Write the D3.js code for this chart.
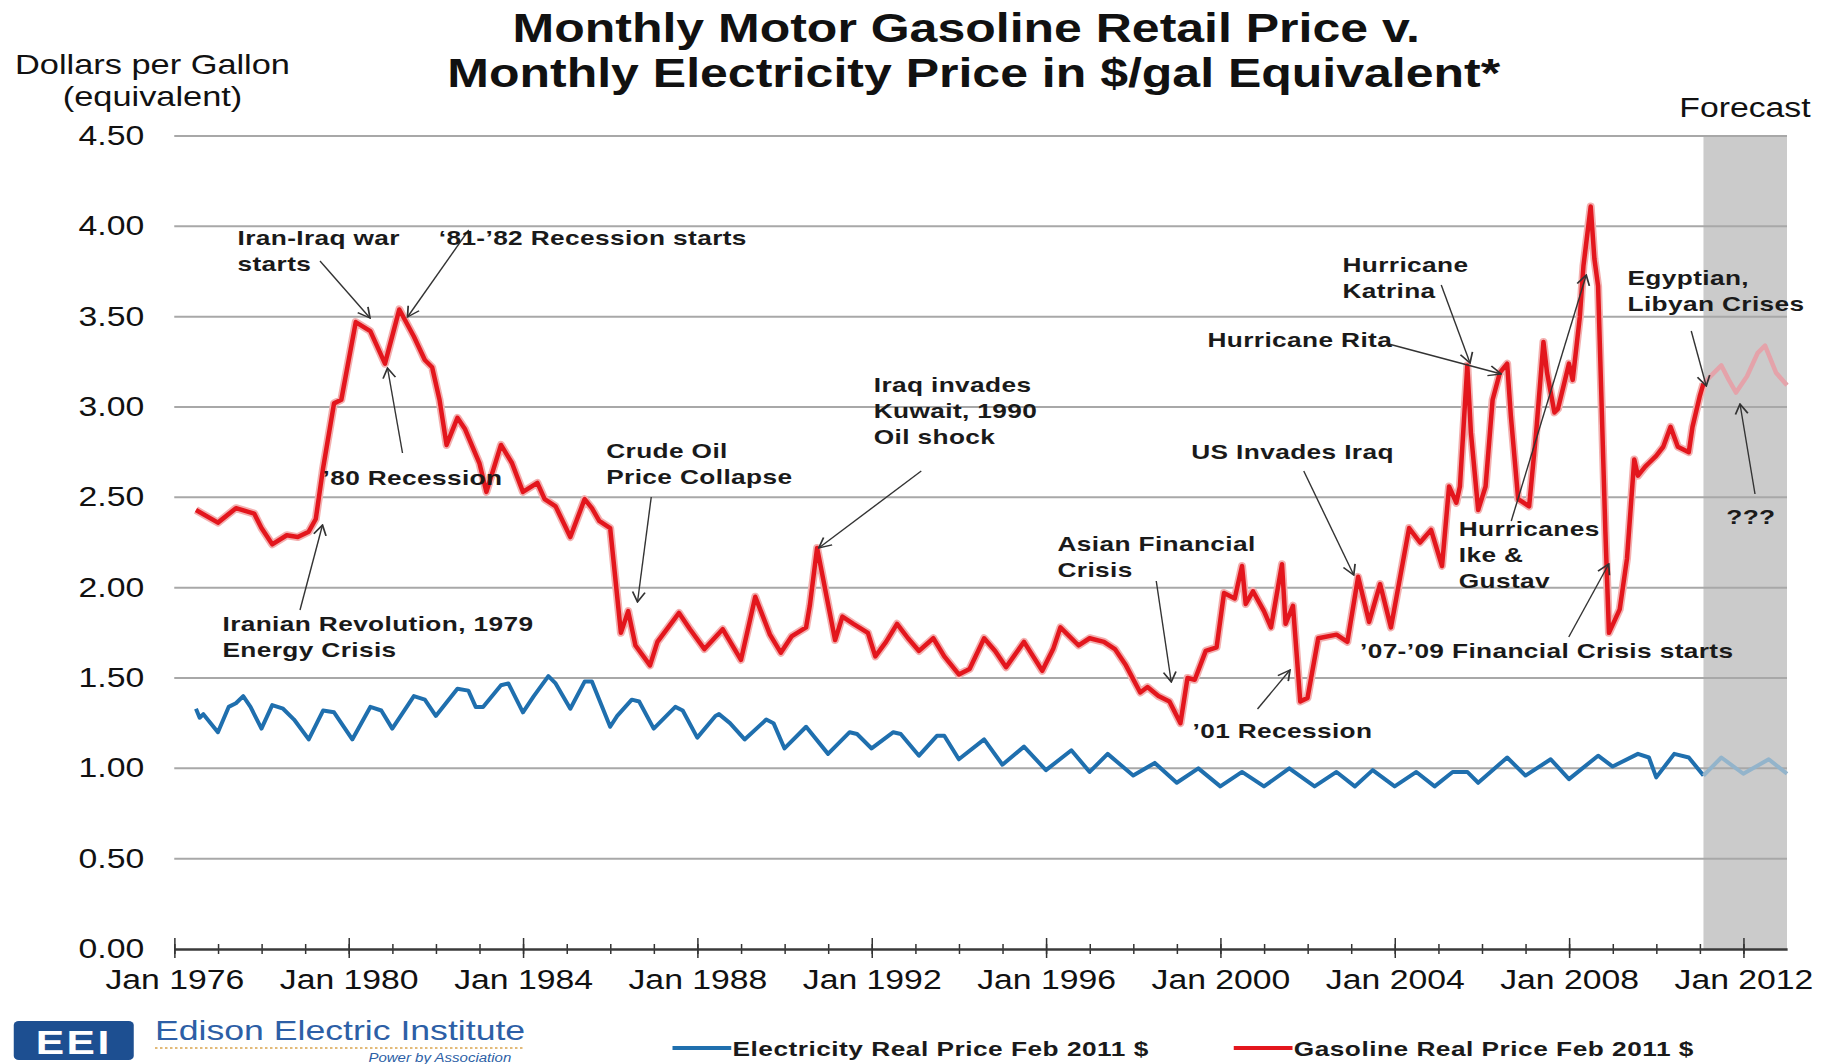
<!DOCTYPE html>
<html>
<head>
<meta charset="utf-8">
<script src="https://cdn.jsdelivr.net/npm/d3@7"></script>
<style>
  html, body { margin: 0; padding: 0; background: #fff; }
  svg { display: block; font-family: "Liberation Sans", Arial, sans-serif; }
  .annot { font-size: 21px; font-weight: bold; fill: #1a1a1a; letter-spacing: 0.3px; }
  .legend { font-size: 21px; font-weight: bold; fill: #1a1a1a; letter-spacing: 0.4px; }
</style>
</head>
<body>
<svg id="chart"></svg>
<script>
// gasoline, real $ per gallon (one row per year)
const gasMonths = [
  '1976-07',
  '1977-01', '1977-06', '1977-11',
  '1978-01', '1978-04', '1978-08', '1978-11',
  '1979-02', '1979-04', '1979-06', '1979-09', '1979-11',
  '1980-03', '1980-07', '1980-11',
  '1981-03', '1981-07', '1981-10', '1981-12',
  '1982-02', '1982-04', '1982-07', '1982-09',
  '1983-01', '1983-03', '1983-07', '1983-10',
  '1984-01', '1984-05', '1984-07', '1984-10',
  '1985-02', '1985-06', '1985-08', '1985-10',
  '1986-01', '1986-04', '1986-06', '1986-08', '1986-12',
  '1987-02', '1987-08', '1987-11',
  '1988-03', '1988-08',
  '1989-01', '1989-05', '1989-09', '1989-12',
  '1990-03', '1990-07', '1990-08', '1990-10',
  '1991-03', '1991-05', '1991-08', '1991-12',
  '1992-02', '1992-05', '1992-08', '1992-11',
  '1993-02', '1993-06', '1993-09',
  '1994-01', '1994-04', '1994-08', '1994-11',
  '1995-02', '1995-07', '1995-12',
  '1996-03', '1996-05', '1996-10',
  '1997-01', '1997-05', '1997-08', '1997-11',
  '1998-03', '1998-05', '1998-08', '1998-11',
  '1999-02', '1999-04', '1999-06', '1999-09', '1999-12',
  '2000-02', '2000-05', '2000-07', '2000-08', '2000-10',
  '2001-01', '2001-03', '2001-06', '2001-07', '2001-09', '2001-11',
  '2002-01', '2002-04', '2002-09', '2002-12',
  '2003-03', '2003-06', '2003-09', '2003-12',
  '2004-05', '2004-08', '2004-11',
  '2005-02', '2005-04', '2005-06', '2005-07', '2005-09', '2005-10', '2005-12',
  '2006-02', '2006-04', '2006-06', '2006-08', '2006-09', '2006-11',
  '2007-02', '2007-04', '2007-06', '2007-07', '2007-09', '2007-10',
  '2008-01', '2008-02', '2008-04', '2008-05', '2008-07', '2008-08', '2008-09', '2008-11', '2008-12',
  '2009-03', '2009-05', '2009-07', '2009-08', '2009-10', '2009-11',
  '2010-01', '2010-03', '2010-05', '2010-07', '2010-10', '2010-11',
  '2011-01', '2011-02'
];
const gasPrices = [
  2.43,
  2.36, 2.44, 2.41,
  2.33, 2.24, 2.29, 2.28,
  2.31, 2.38, 2.66, 3.02, 3.04,
  3.47, 3.42, 3.24,
  3.54, 3.39, 3.26, 3.22,
  3.04, 2.79, 2.94, 2.88,
  2.69, 2.53, 2.79, 2.69,
  2.53, 2.58, 2.49, 2.45,
  2.28, 2.49, 2.44, 2.37,
  2.33, 1.75, 1.87, 1.68, 1.57,
  1.70, 1.86, 1.77,
  1.66, 1.77,
  1.60, 1.95, 1.74, 1.64,
  1.73, 1.78, 1.90, 2.22,
  1.71, 1.84, 1.80, 1.75,
  1.62, 1.70, 1.80, 1.72,
  1.65, 1.72, 1.62,
  1.52, 1.55, 1.72, 1.65,
  1.56, 1.70, 1.54,
  1.66, 1.78, 1.68,
  1.72, 1.70, 1.66, 1.57,
  1.42, 1.45, 1.40, 1.37,
  1.25, 1.50, 1.49, 1.65, 1.67,
  1.97, 1.94, 2.12, 1.91, 1.98,
  1.87, 1.78, 2.13, 1.80, 1.90, 1.37,
  1.39, 1.72, 1.74, 1.70,
  2.06, 1.81, 2.02, 1.78,
  2.33, 2.25, 2.32,
  2.12, 2.56, 2.47, 2.56, 3.23, 2.86, 2.43,
  2.56, 3.04, 3.19, 3.24, 2.95, 2.49,
  2.45, 2.86, 3.36, 3.19, 2.97, 2.99,
  3.24, 3.15, 3.50, 3.78, 4.11, 3.82, 3.67, 2.31, 1.75,
  1.88, 2.16, 2.71, 2.62, 2.67, 2.69,
  2.73, 2.78, 2.89, 2.78, 2.75, 2.89,
  3.06, 3.13
];
const gasForecastMonths = ['2011-02', '2011-05', '2011-07', '2011-09', '2011-11', '2012-02', '2012-05', '2012-07', '2012-10', '2013-01'];
const gasForecastPrices = [3.13, 3.19, 3.23, 3.15, 3.08, 3.17, 3.30, 3.34, 3.19, 3.12];

// electricity, $/gal equivalent
const elecMonths = [
  '1976-07', '1976-08', '1976-09',
  '1977-01', '1977-04', '1977-06', '1977-08', '1977-10',
  '1978-01', '1978-04', '1978-07', '1978-10',
  '1979-02', '1979-06', '1979-09',
  '1980-02', '1980-07', '1980-10',
  '1981-01', '1981-07', '1981-10',
  '1982-01', '1982-07', '1982-10', '1982-12',
  '1983-02', '1983-07', '1983-09',
  '1984-01', '1984-04', '1984-08', '1984-10',
  '1985-02', '1985-06', '1985-08',
  '1986-01', '1986-03', '1986-07', '1986-09',
  '1987-01', '1987-07', '1987-09',
  '1988-01', '1988-06', '1988-07', '1988-10',
  '1989-02', '1989-08', '1989-10',
  '1990-01', '1990-07',
  '1991-01', '1991-07', '1991-09',
  '1992-01', '1992-07', '1992-09',
  '1993-02', '1993-07', '1993-09',
  '1994-01', '1994-08',
  '1995-01', '1995-07',
  '1996-01', '1996-08',
  '1997-01', '1997-06',
  '1998-01', '1998-07',
  '1999-01', '1999-07',
  '2000-01', '2000-07',
  '2001-01', '2001-08',
  '2002-03', '2002-09',
  '2003-02', '2003-07',
  '2004-01', '2004-07', '2004-12',
  '2005-05', '2005-09', '2005-12',
  '2006-08',
  '2007-01', '2007-08',
  '2008-01', '2008-09',
  '2009-01', '2009-08', '2009-11',
  '2010-01', '2010-06', '2010-10',
  '2011-02'
];
const elecPrices = [
  1.33, 1.28, 1.30,
  1.20, 1.34, 1.36, 1.40, 1.34,
  1.22, 1.35, 1.33, 1.27,
  1.16, 1.32, 1.31,
  1.16, 1.34, 1.32,
  1.22, 1.40, 1.38,
  1.29, 1.44, 1.43, 1.34,
  1.34, 1.46, 1.47,
  1.31, 1.40, 1.51, 1.47,
  1.33, 1.48, 1.48,
  1.23, 1.29, 1.38, 1.37,
  1.22, 1.34, 1.32,
  1.17, 1.29, 1.30, 1.25,
  1.16, 1.27, 1.25,
  1.11, 1.23,
  1.08, 1.20, 1.19,
  1.11, 1.20, 1.19,
  1.07, 1.18, 1.18,
  1.05, 1.16,
  1.02, 1.12,
  0.99, 1.10,
  0.98, 1.08,
  0.96, 1.03,
  0.92, 1.00,
  0.90, 0.98,
  0.90, 1.00,
  0.90, 0.98,
  0.90, 0.99,
  0.90, 0.98, 0.90,
  0.98, 0.98, 0.92,
  1.06,
  0.96, 1.05,
  0.94, 1.07,
  1.01, 1.08, 1.06,
  0.95, 1.08, 1.06,
  0.96
];
const elecForecastMonths = ['2011-02', '2011-07', '2012-01', '2012-08', '2013-01'];
const elecForecastPrices = [0.96, 1.06, 0.97, 1.05, 0.97];

const yTicks = [0, 0.5, 1, 1.5, 2, 2.5, 3, 3.5, 4, 4.5];
const majorYears = [1976, 1980, 1984, 1988, 1992, 1996, 2000, 2004, 2008, 2012];
const forecastStart = '2011-02';

const W = 1822, H = 1064;
const SX = 1.25; // the source picture is stretched sideways, so is this one
const VW = W / SX;
const plot = { left: 139.4, right: 1429.6, top: 136, bottom: 949 };

const parse = d3.timeParse('%Y-%m');
const zip = (ms, vs) => ms.map((m, i) => ({ date: parse(m), value: vs[i] }));

const svg = d3.select('#chart')
  .attr('width', W)
  .attr('height', H)
  .attr('viewBox', `0 0 ${VW} ${H}`)
  .attr('preserveAspectRatio', 'none');

const x = d3.scaleTime().domain([new Date(1976, 0, 1), new Date(2013, 0, 1)]).range([plot.left, plot.right]);
const y = d3.scaleLinear().domain([0, 4.5]).range([plot.bottom, plot.top]);

// forecast band
svg.append('rect')
  .attr('x', x(parse(forecastStart)))
  .attr('y', y(4.5))
  .attr('width', plot.right - x(parse(forecastStart)))
  .attr('height', y(0) - y(4.5))
  .attr('fill', '#cbcbcb');

// gridlines
svg.append('g')
  .selectAll('line')
  .data(yTicks.filter(d => d > 0))
  .enter()
  .append('line')
  .attr('x1', plot.left)
  .attr('x2', plot.right)
  .attr('y1', d => y(d))
  .attr('y2', d => y(d))
  .attr('stroke', '#a8a8a8')
  .attr('stroke-width', 2)
  .attr('vector-effect', 'non-scaling-stroke');

// y axis labels
svg.append('g')
  .attr('transform', `translate(${plot.left},0)`)
  .call(d3.axisLeft(y).tickValues(yTicks).tickFormat(d3.format('.2f')).tickSize(0).tickPadding(24))
  .call(g => g.select('.domain').remove())
  .selectAll('text')
  .style('font-size', '27px')
  .style('font-family', '"Liberation Sans", Arial, sans-serif')
  .style('fill', '#111');

// x axis: yearly minor ticks, 4-yearly labelled ticks
const years = d3.range(1976, 2013).map(yr => new Date(yr, 0, 1));
svg.append('g')
  .attr('transform', `translate(0,${plot.bottom})`)
  .call(d3.axisBottom(x).tickValues(years).tickFormat('').tickSize(5).tickSizeOuter(0))
  .call(g => g.select('.domain').remove())
  .call(g => g.selectAll('.tick line').attr('y1', -5).attr('stroke', '#333')
    .attr('stroke-width', 1.5).attr('vector-effect', 'non-scaling-stroke'));

svg.append('g')
  .attr('transform', `translate(0,${plot.bottom})`)
  .call(d3.axisBottom(x)
    .tickValues(majorYears.map(yr => new Date(yr, 0, 1)))
    .tickFormat(d3.timeFormat('Jan %Y'))
    .tickSize(9).tickSizeOuter(0).tickPadding(12))
  .call(g => g.select('.domain').attr('stroke', '#3a3a3a').attr('stroke-width', 2.5)
    .attr('vector-effect', 'non-scaling-stroke'))
  .call(g => g.selectAll('.tick line').attr('y1', -11).attr('stroke', '#333')
    .attr('stroke-width', 1.5).attr('vector-effect', 'non-scaling-stroke'))
  .selectAll('text')
  .style('font-size', '27px')
  .style('font-family', '"Liberation Sans", Arial, sans-serif')
  .style('fill', '#111');

// series
const line = d3.line().x(d => x(d.date)).y(d => y(d.value));
const series = [
  { data: zip(elecMonths, elecPrices), color: '#1f6fae', width: 4 },
  { data: zip(elecForecastMonths, elecForecastPrices), color: '#93b4cb', width: 4 },
  { data: zip(gasMonths, gasPrices), color: '#f3b0b0', width: 8 },
  { data: zip(gasMonths, gasPrices), color: '#e3161d', width: 4.5 },
  { data: zip(gasForecastMonths, gasForecastPrices), color: '#e4a3aa', width: 4.5 }
];
svg.append('g')
  .selectAll('path')
  .data(series)
  .enter()
  .append('path')
  .attr('d', d => line(d.data))
  .attr('fill', 'none')
  .attr('stroke', d => d.color)
  .attr('stroke-width', d => d.width)
  .attr('stroke-linejoin', 'round')
  .attr('vector-effect', 'non-scaling-stroke');

// annotations
svg.append('defs').append('marker')
  .attr('id', 'head')
  .attr('viewBox', '0 0 12 12')
  .attr('refX', 11).attr('refY', 6)
  .attr('markerWidth', 12).attr('markerHeight', 12)
  .attr('markerUnits', 'userSpaceOnUse')
  .attr('orient', 'auto')
  .append('path')
  .attr('d', 'M1,1 L11,6 L1,11')
  .attr('fill', 'none')
  .attr('stroke', '#333')
  .attr('stroke-width', 1.4);

const notes = [
  { lines: ['Iran-Iraq war', 'starts'], x: 190, y: 245, from: [256, 261], to: [296, 318] },
  { lines: ['\u201881-\u201982 Recession starts'], x: 351, y: 245, from: [375, 230], to: [326, 317] },
  { lines: ['\u201980 Recession'], x: 258, y: 485, from: [322, 453], to: [310, 368] },
  { lines: ['Iranian Revolution, 1979', 'Energy Crisis'], x: 178, y: 631, from: [240, 610], to: [258, 525] },
  { lines: ['Crude Oil', 'Price Collapse'], x: 485, y: 458, from: [521, 497], to: [510, 602] },
  { lines: ['Iraq invades', 'Kuwait, 1990', 'Oil shock'], x: 699, y: 392, from: [737, 471], to: [655, 548] },
  { lines: ['Asian Financial', 'Crisis'], x: 846, y: 551, from: [925, 581], to: [937, 682] },
  { lines: ['\u201901 Recession'], x: 954, y: 738, from: [1006, 709], to: [1032, 670] },
  { lines: ['US Invades Iraq'], x: 953, y: 459, from: [1043, 471], to: [1083, 575] },
  { lines: ['\u201907-\u201909 Financial Crisis starts'], x: 1088, y: 658, from: [1255, 637], to: [1287, 564] },
  { lines: ['Hurricane Rita'], x: 966, y: 347, from: [1111, 344], to: [1201, 374] },
  { lines: ['Hurricane', 'Katrina'], x: 1074, y: 272, from: [1153, 285], to: [1176, 363] },
  { lines: ['Hurricanes', 'Ike &', 'Gustav'], x: 1167, y: 536, from: [1209, 521], to: [1269, 275] },
  { lines: ['Egyptian,', 'Libyan Crises'], x: 1302, y: 285, from: [1353, 331], to: [1365, 386] },
  { lines: ['???'], x: 1381, y: 524, from: [1404, 494], to: [1392, 404] }
];

const ann = svg.append('g');
ann.selectAll('line')
  .data(notes)
  .enter()
  .append('line')
  .attr('x1', d => d.from[0]).attr('y1', d => d.from[1])
  .attr('x2', d => d.to[0]).attr('y2', d => d.to[1])
  .attr('stroke', '#333')
  .attr('stroke-width', 1.4)
  .attr('vector-effect', 'non-scaling-stroke')
  .attr('marker-end', 'url(#head)');

ann.selectAll('text')
  .data(notes)
  .enter()
  .append('text')
  .attr('class', 'annot')
  .attr('x', d => d.x)
  .attr('y', d => d.y)
  .each(function (d) {
    d3.select(this).selectAll('tspan')
      .data(d.lines)
      .enter()
      .append('tspan')
      .attr('x', d.x)
      .attr('dy', (t, i) => i === 0 ? 0 : 26)
      .text(t => t);
  });

// titles
svg.append('text')
  .attr('x', 773).attr('y', 42)
  .attr('text-anchor', 'middle')
  .style('font-size', '40px').style('font-weight', 'bold').style('fill', '#111')
  .text('Monthly Motor Gasoline Retail Price v.');
svg.append('text')
  .attr('x', 779).attr('y', 87)
  .attr('text-anchor', 'middle')
  .style('font-size', '40px').style('font-weight', 'bold').style('fill', '#111')
  .text('Monthly Electricity Price in $/gal Equivalent*');

svg.append('text')
  .attr('x', 122).attr('y', 74)
  .attr('text-anchor', 'middle')
  .style('font-size', '27.5px').style('fill', '#111')
  .text('Dollars per Gallon');
svg.append('text')
  .attr('x', 122).attr('y', 106)
  .attr('text-anchor', 'middle')
  .style('font-size', '27.5px').style('fill', '#111')
  .text('(equivalent)');

svg.append('text')
  .attr('x', 1396).attr('y', 117)
  .attr('text-anchor', 'middle')
  .style('font-size', '27px').style('fill', '#111')
  .text('Forecast');

// legend
const legendItems = [
  { label: 'Electricity Real Price Feb 2011 $', color: '#1f6fae', x: 538 },
  { label: 'Gasoline Real Price Feb 2011 $', color: '#e3161d', x: 987 }
];
const legend = svg.append('g').selectAll('g')
  .data(legendItems)
  .enter()
  .append('g')
  .attr('transform', d => `translate(${d.x},1048)`);
legend.append('line')
  .attr('x1', 0).attr('x2', 47)
  .attr('stroke', d => d.color)
  .attr('stroke-width', 4)
  .attr('vector-effect', 'non-scaling-stroke');
legend.append('text')
  .attr('class', 'legend')
  .attr('x', 48).attr('y', 8)
  .text(d => d.label);

// EEI logo
const logo = svg.append('g');
logo.append('rect')
  .attr('x', 11).attr('y', 1021).attr('width', 96).attr('height', 39).attr('rx', 4)
  .attr('fill', '#1d4f91');
logo.append('text')
  .attr('x', 59).attr('y', 1054)
  .attr('text-anchor', 'middle')
  .style('font-size', '34px').style('font-weight', 'bold').style('fill', '#fff')
  .style('letter-spacing', '2px')
  .text('EEI');
logo.append('text')
  .attr('x', 124).attr('y', 1040)
  .style('font-size', '28.5px').style('fill', '#2d5fa6')
  .text('Edison Electric Institute');
logo.append('line')
  .attr('x1', 124).attr('x2', 420).attr('y1', 1048).attr('y2', 1048)
  .attr('stroke', '#d9a44e').attr('stroke-width', 1.5).attr('stroke-dasharray', '2,2');
logo.append('text')
  .attr('x', 409).attr('y', 1062)
  .attr('text-anchor', 'end')
  .style('font-size', '12px').style('font-style', 'italic').style('fill', '#2d5fa6')
  .text('Power by Association');
</script>
</body>
</html>
